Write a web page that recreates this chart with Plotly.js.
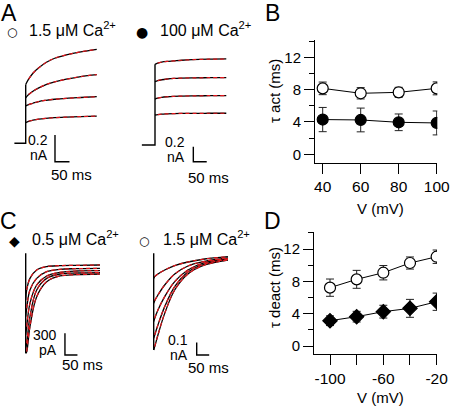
<!DOCTYPE html>
<html><head><meta charset="utf-8">
<script src="https://cdn.plot.ly/plotly-3.0.1.min.js"></script>
<style>html,body{margin:0;padding:0;background:#fff}#g{width:450px;height:408px}</style>
</head><body><div id="g"></div>
<script>
// ---------- data ----------
// Panel B: activation time constants
const bV = [40, 60, 80, 100];
const bAct15 = [8.16, 7.55, 7.67, 8.16];
const bAct15Err = [0.78, 0.70, 0.62, 0.80];
const bAct100 = [4.30, 4.25, 3.96, 3.88];
const bAct100Err = [1.50, 1.47, 1.03, 1.48];
// Panel D: deactivation time constants
const dV = [-100, -80, -60, -40, -20];
const dDeact15 = [7.22, 8.25, 9.07, 10.27, 11.05];
const dDeact15Err = [1.07, 1.11, 0.89, 0.75, 0.83];
const dDeact05 = [3.13, 3.63, 4.25, 4.66, 5.48];
const dDeact05Err = [0.60, 0.66, 0.79, 1.11, 1.07];
const dTickVals = [-100, -60, -20];
const dTickText = ['-100', '-60', '-20'];
// Panel A, 1.5 uM Ca: current traces (ms, nA)
const tA15 = [0, 10, 25, 45, 70, 100, 140, 190, 245];
const iA15_1 = [0.44, 0.48, 0.525, 0.565, 0.605, 0.637, 0.662, 0.685, 0.704];
const iA15_2 = [0.34, 0.365, 0.39, 0.415, 0.44, 0.46, 0.48, 0.50, 0.515];
const iA15_3 = [0.28, 0.29, 0.30, 0.313, 0.322, 0.33, 0.337, 0.343, 0.349];
const iA15_4 = [0.155, 0.165, 0.173, 0.181, 0.187, 0.192, 0.196, 0.200, 0.204];
// Panel A, 100 uM Ca (ms, nA)
const tA100 = [0, 10, 25, 45, 70, 100, 140, 200, 266];
const iA100_1 = [1.076, 1.092, 1.105, 1.114, 1.121, 1.13, 1.138, 1.144, 1.147];
const iA100_2 = [0.844, 0.858, 0.87, 0.88, 0.888, 0.892, 0.895, 0.897, 0.898];
const iA100_3 = [0.613, 0.624, 0.635, 0.643, 0.649, 0.652, 0.655, 0.657, 0.658];
const iA100_4 = [0.40, 0.406, 0.412, 0.416, 0.419, 0.421, 0.422, 0.423, 0.423];
// Panel C, 0.5 uM Ca tail currents (ms, pA)
const tC = [0, 4, 17, 44, 84, 137, 204, 297];
const iC05_1 = [-622, -484, -323, -207, -161, -147, -143, -138];
const iC05_2 = [-853, -738, -484, -323, -230, -198, -189, -184];
const iC05_3 = [-1107, -991, -668, -415, -290, -240, -221, -217];
const iC05_4 = [-1291, -1221, -853, -484, -323, -263, -249, -244];
const iC05_5 = [-1360, -1337, -991, -576, -369, -290, -272, -263];
// Panel C, 1.5 uM Ca tail currents (ms, nA)
const iC15_1 = [-0.187, -0.173, -0.152, -0.12, -0.085, -0.056, -0.032, -0.013];
const iC15_2 = [-0.387, -0.365, -0.32, -0.24, -0.152, -0.088, -0.051, -0.024];
const iC15_3 = [-0.533, -0.507, -0.44, -0.333, -0.213, -0.12, -0.061, -0.029];
const iC15_4 = [-0.667, -0.64, -0.56, -0.413, -0.253, -0.136, -0.072, -0.035];
const iC15_5 = [-0.76, -0.733, -0.64, -0.467, -0.28, -0.152, -0.08, -0.04];

// ---------- layout helpers ----------
const W = 450, H = 408;
const FONT = 'Liberation Sans, Arial, Helvetica, sans-serif';
function hx(p0, p1, pRef, vRef, ppu) {
  return {domain: [p0 / W, p1 / W], range: [vRef - (pRef - p0) / ppu, vRef + (p1 - pRef) / ppu]};
}
function vy(p0, p1, pRef, vRef, ppu) {
  return {domain: [1 - p1 / H, 1 - p0 / H], range: [vRef - (p1 - pRef) / ppu, vRef + (pRef - p0) / ppu]};
}
function hidden(o) { return Object.assign({visible: false, fixedrange: true}, o); }
function ann(text, px, py, size, xanchor, extra) {
  return Object.assign({x: px / W, y: 1 - py / H, xref: 'paper', yref: 'paper', text: text,
    showarrow: false, xanchor: xanchor || 'center', yanchor: 'middle',
    font: {family: FONT, size: size, color: '#000'}}, extra || {});
}
function sym(ch, px, py, size) {
  return ann(ch, px, py, size, 'center', {font: {family: 'DejaVu Sans', size: size, color: '#000'}});
}

const data = [];
function rec(xa, ya, t, ys) {
  ys.forEach(function (y) {
    data.push({x: t, y: y, xaxis: xa, yaxis: ya, mode: 'lines', showlegend: false, hoverinfo: 'skip',
      line: {color: '#000', width: 1.3, shape: 'spline', smoothing: 1}});
  });
  ys.forEach(function (y) {
    data.push({x: t.slice(1), y: y.slice(1), xaxis: xa, yaxis: ya, mode: 'lines', showlegend: false, hoverinfo: 'skip',
      line: {color: '#e0161b', width: 1.2, dash: '4px,3px', shape: 'spline', smoothing: 1}});
  });
}
function seg(xa, ya, x, y) {
  data.push({x: x, y: y, xaxis: xa, yaxis: ya, mode: 'lines', showlegend: false, hoverinfo: 'skip',
    line: {color: '#000', width: 1.4}});
}

// Panel A traces
seg('x3', 'y3', [-39, 0, 0], [0, 0, iA15_1[0]]);
rec('x3', 'y3', tA15, [iA15_1, iA15_2, iA15_3, iA15_4]);
seg('x3', 'y3', [101, 101, 151], [0.062, -0.138, -0.138]);
seg('x4', 'y4', [-49, 0, 0], [0, 0, iA100_1[0]]);
rec('x4', 'y4', tA100, [iA100_1, iA100_2, iA100_3, iA100_4]);
seg('x4', 'y4', [143, 143, 193], [-0.023, -0.223, -0.223]);
// Panel C traces
seg('x5', 'y5', [0, 0], [23, iC05_5[0]]);
rec('x5', 'y5', tC, [iC05_1, iC05_2, iC05_3, iC05_4, iC05_5]);
seg('x5', 'y5', [157, 157, 207], [-1083, -1383, -1383]);
seg('x6', 'y6', [0, 0], [0.014, iC15_5[0]]);
rec('x6', 'y6', tC, [iC15_1, iC15_2, iC15_3, iC15_4, iC15_5]);
seg('x6', 'y6', [172, 172, 222], [-0.7, -0.8, -0.8]);

// Panel B and D series
function series(xa, ya, x, y, err, symbol, fill, name) {
  data.push({x: x, y: y, xaxis: xa, yaxis: ya, name: name, mode: 'lines+markers', showlegend: false,
    line: {color: '#000', width: 1},
    marker: {symbol: symbol, size: 11, color: fill, line: {color: '#000', width: 1.2}},
    error_y: {type: 'data', array: err, visible: true, color: '#222', thickness: 1, width: 4}});
}
series('x', 'y', bV, bAct15, bAct15Err, 'circle', '#fff', '1.5 µM Ca2+');
series('x', 'y', bV, bAct100, bAct100Err, 'circle', '#000', '100 µM Ca2+');
series('x2', 'y2', dV, dDeact15, dDeact15Err, 'circle', '#fff', '1.5 µM Ca2+');
series('x2', 'y2', dV, dDeact05, dDeact05Err, 'diamond', '#000', '0.5 µM Ca2+');

const axBase = {showgrid: false, zeroline: false, showline: true, linecolor: '#000', linewidth: 1,
  ticks: 'outside', ticklen: 10, tickwidth: 1, tickcolor: '#000', fixedrange: true,
  ticklabeloverflow: 'allow', tickfont: {family: FONT, size: 15, color: '#000'}};
const minorY = {ticks: 'outside', ticklen: 5, tickwidth: 1, tickcolor: '#000', dtick: 2, tick0: 0, showgrid: false};

const layout = {
  width: W, height: H, margin: {l: 0, r: 0, t: 0, b: 0}, paper_bgcolor: '#fff', plot_bgcolor: 'rgba(0,0,0,0)',
  showlegend: false, font: {family: FONT, color: '#000'},
  xaxis: Object.assign({}, axBase, hx(315, 437.3, 322.7, 40, 1.9), {anchor: 'y', tickvals: bV,
    tickfont: {family: FONT, size: 15.5, color: '#000'}}),
  yaxis: Object.assign({}, axBase, vy(40, 162.7, 154.3, 0, 8.08), {anchor: 'x', tick0: 0, dtick: 4, minor: minorY}),
  xaxis2: Object.assign({}, axBase, hx(314, 437, 330, -100, 1.333), {anchor: 'y2', tickvals: dTickVals, ticktext: dTickText,
    minor: {ticks: 'outside', ticklen: 10, tickwidth: 1, tickcolor: '#000', dtick: 20, tick0: -100, showgrid: false},
    tickfont: {family: FONT, size: 15.5, color: '#000'}}),
  yaxis2: Object.assign({}, axBase, vy(231.7, 354.3, 346, 0, 8.08), {anchor: 'x2', tick0: 0, dtick: 4, minor: minorY}),
  xaxis3: hidden(Object.assign(hx(5, 110, 25.7, 0, 0.29), {anchor: 'y3'})),
  yaxis3: hidden(Object.assign(vy(35, 175, 143.3, 0, 133.5), {anchor: 'x3'})),
  xaxis4: hidden(Object.assign(hx(130, 235, 155, 0, 0.268), {anchor: 'y4'})),
  yaxis4: hidden(Object.assign(vy(35, 175, 145, 0, 75), {anchor: 'x4'})),
  xaxis5: hidden(Object.assign(hx(5, 110, 25.7, 0, 0.25), {anchor: 'y5'})),
  yaxis5: hidden(Object.assign(vy(245, 380, 255, 0, 0.0723), {anchor: 'x5'})),
  xaxis6: hidden(Object.assign(hx(135, 240, 153.7, 0, 0.25), {anchor: 'y6'})),
  yaxis6: hidden(Object.assign(vy(245, 380, 255, 0, 125), {anchor: 'x6'})),
  annotations: [
    ann('A', 9, 13, 23), ann('B', 272, 13, 23), ann('C', 8, 221, 23), ann('D', 272, 221, 23),
    // legends
    sym('○', 12, 32, 12), ann('1.5 μM Ca<sup>2+</sup>', 27, 29, 16, 'left'),
    sym('●', 142, 32, 14), ann('100 μM Ca<sup>2+</sup>', 158, 29, 16, 'left'),
    sym('◆', 14, 241, 14), ann('0.5 μM Ca<sup>2+</sup>', 30, 238, 16, 'left'),
    sym('○', 144, 241, 12), ann('1.5 μM Ca<sup>2+</sup>', 161, 238, 16, 'left'),
    // scale bar labels
    ann('0.2', 50, 139.5, 14, 'right'), ann('nA', 50, 154.5, 14, 'right'), ann('50 ms', 71, 174, 15),
    ann('0.2', 187, 141.5, 14, 'right'), ann('nA', 187, 157.5, 14, 'right'), ann('50 ms', 208, 177, 15),
    ann('300', 59, 334.5, 14, 'right'), ann('pA', 59, 349.5, 14, 'right'), ann('50 ms', 82, 364, 15),
    ann('0.1', 190, 339.5, 14, 'right'), ann('nA', 190, 354.5, 14, 'right'), ann('50 ms', 208, 367, 15),
    // axis titles
    ann('τ act (ms)', 274, 91, 15, 'center', {textangle: -90}),
    ann('V (mV)', 380, 208, 15),
    ann('τ deact (ms)', 274, 288, 15, 'center', {textangle: -90}),
    ann('V (mV)', 380, 397, 15)
  ]
};
Plotly.newPlot('g', data, layout, {staticPlot: true, displayModeBar: false});
</script>
</body></html>
